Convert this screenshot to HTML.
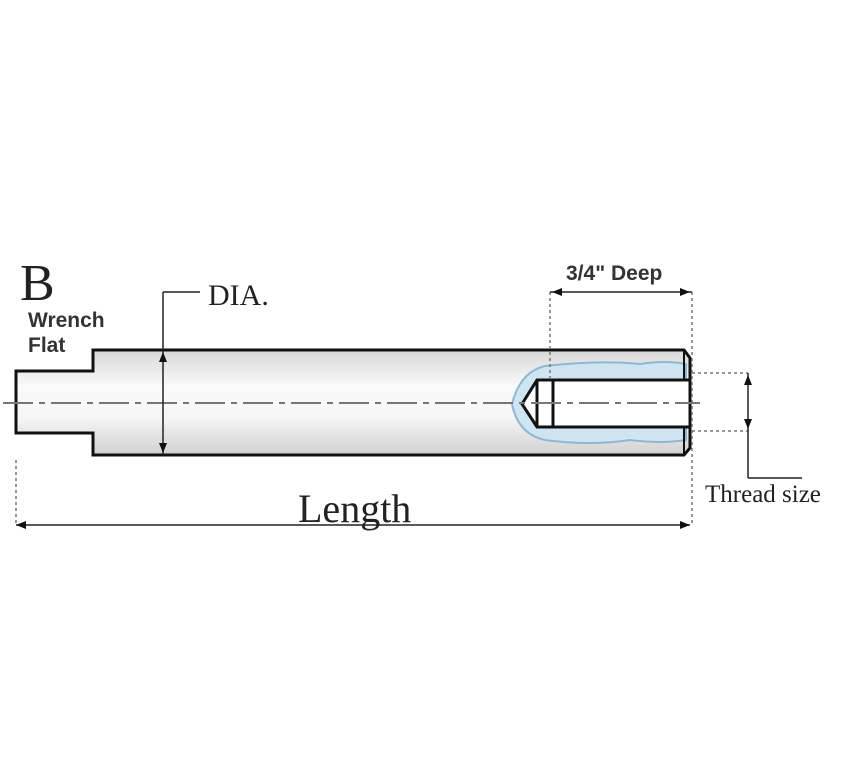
<!DOCTYPE html>
<html><head><style>body{margin:0;background:#fff}</style></head><body>
<svg width="858" height="768" viewBox="0 0 858 768" xmlns="http://www.w3.org/2000/svg">
<defs>
<linearGradient id="g" x1="0" y1="0" x2="0" y2="1">
<stop offset="0" stop-color="#d8d8d8"/><stop offset="0.35" stop-color="#fafafa"/><stop offset="0.65" stop-color="#f6f6f6"/><stop offset="1" stop-color="#d0d0d0"/>
</linearGradient>
</defs>
<path d="M16,371 H93 V350 H684 L690,358 V448 L684,455 H93 V433 H16 Z" fill="url(#g)" stroke="#111" stroke-width="3"/>
<path d="M545,366 Q600,360 640,364 Q665,360 686,364 V440 Q660,444 630,440 Q590,446 545,440 Q518,434 512,404 Q520,372 545,366 Z" fill="#cfe6f2" stroke="#8fb8d0" stroke-width="2"/>
<path d="M537,380 H690 V427 H537 L522,404 Z" fill="#fff" stroke="#111" stroke-width="3"/>
<line x1="537" y1="380" x2="537" y2="427" stroke="#111" stroke-width="3"/>
<line x1="553" y1="380" x2="553" y2="427" stroke="#111" stroke-width="3"/>
<line x1="684" y1="350" x2="684" y2="380" stroke="#111" stroke-width="2"/>
<line x1="684" y1="427" x2="684" y2="455" stroke="#111" stroke-width="2"/>
<line x1="3" y1="403" x2="700" y2="403" stroke="#777" stroke-width="2" stroke-dasharray="30,6,6,6"/>
<g stroke="#777" stroke-width="1.5" stroke-dasharray="3,3" fill="none">
<line x1="550" y1="292" x2="550" y2="380"/>
<line x1="692" y1="292" x2="692" y2="525"/>
<line x1="16" y1="460" x2="16" y2="525"/>
<line x1="692" y1="373" x2="748" y2="373"/>
<line x1="692" y1="431" x2="748" y2="431"/>
</g>
<g stroke="#222" stroke-width="1.5" fill="none">
<line x1="163" y1="292" x2="163" y2="455"/><line x1="163" y1="292" x2="200" y2="292"/>
<line x1="550" y1="292" x2="692" y2="292"/>
<line x1="16" y1="525" x2="690" y2="525"/>
<line x1="748" y1="373" x2="748" y2="478"/><line x1="748" y1="478" x2="802" y2="478"/>
</g>
<g fill="#111">
<path d="M163,352 l-4,10 h8 z"/><path d="M163,453 l-4,-10 h8 z"/>
<path d="M552,292 l10,-4 v8 z"/><path d="M690,292 l-10,-4 v8 z"/>
<path d="M16,525 l10,-4 v8 z"/><path d="M690,525 l-10,-4 v8 z"/>
<path d="M748,375 l-4,10 h8 z"/><path d="M748,429 l-4,-10 h8 z"/>
</g>
<g fill="#222">
<text x="20" y="300" font-family="Liberation Serif,serif" font-size="52">B</text>
<text x="28" y="327" font-family="Liberation Sans,sans-serif" font-size="21" font-weight="bold" fill="#333">Wrench</text>
<text x="28" y="352" font-family="Liberation Sans,sans-serif" font-size="21" font-weight="bold" fill="#333">Flat</text>
<text x="208" y="305" font-family="Liberation Serif,serif" font-size="30">DIA.</text>
<text x="566" y="280" font-family="Liberation Sans,sans-serif" font-size="21" font-weight="bold" fill="#333">3/4" Deep</text>
<text x="298" y="522" font-family="Liberation Serif,serif" font-size="40">Length</text>
<text x="705" y="502" font-family="Liberation Serif,serif" font-size="25">Thread size</text>
</g>
</svg>
</body></html>
